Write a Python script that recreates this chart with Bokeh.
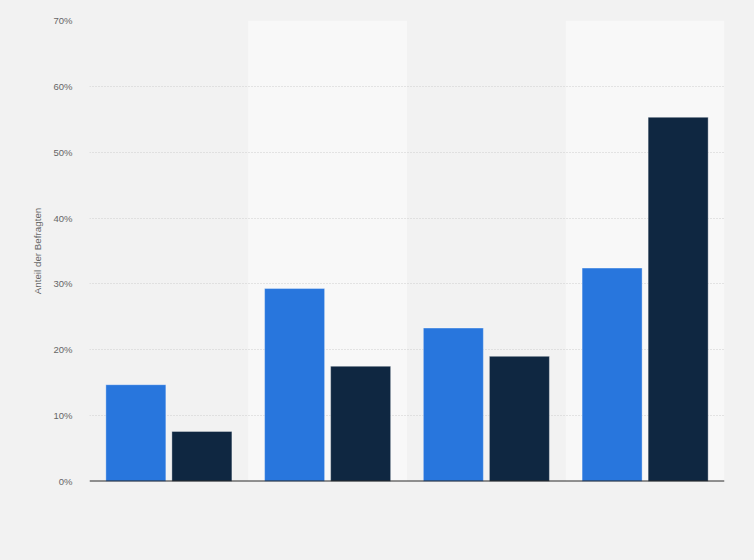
from bokeh.plotting import figure
from bokeh.models import FactorRange, SingleIntervalTicker, Range1d, CustomJSTickFormatter, Span
from bokeh.transform import dodge
from bokeh.embed import file_html
from bokeh.resources import INLINE

categories = ["1", "2", "3", "4"]
series_a = [14.7, 29.3, 23.3, 32.4]
series_b = [7.6, 17.5, 19.0, 55.3]
y_label = "Anteil der Befragten"

BG = "#f2f2f2"
BAND = "#f8f8f8"
BLUE = "#2876dd"
DARK = "#0f2741"

p = figure(
    width=738, height=544,
    x_range=FactorRange(*categories, range_padding=0),
    y_range=Range1d(0, 70),
    output_backend="svg", toolbar_location=None,
    min_border_left=89, min_border_right=14, min_border_top=20, min_border_bottom=63,
    background_fill_color=BG, border_fill_color=BG,
)
p.outline_line_color = None

# alternating background bands
band_src = {"x": categories[1::2], "top": [70] * len(categories[1::2])}
p.vbar(x="x", top="top", bottom=0, width=1, source=band_src,
       fill_color=BAND, line_color=None, level="underlay")

src = {"x": categories, "a": series_a, "b": series_b}
p.vbar(x=dodge("x", -0.208, range=p.x_range), top="a", width=0.378, source=src,
       fill_color=BLUE, line_color="white", line_alpha=0.35, line_width=1)
p.vbar(x=dodge("x", 0.208, range=p.x_range), top="b", width=0.378, source=src,
       fill_color=DARK, line_color="white", line_alpha=0.35, line_width=1)

# x axis: no labels in the reference, only a dark baseline
p.xaxis.visible = False
p.add_layout(Span(location=0, dimension="width", line_color="#2a2a2a",
                  line_width=2, level="overlay"))

p.yaxis.ticker = SingleIntervalTicker(interval=10)
p.yaxis.formatter = CustomJSTickFormatter(code="return tick + '%';")
p.yaxis.axis_line_color = None
p.yaxis.major_tick_line_color = None
p.yaxis.minor_tick_line_color = None
p.yaxis.major_tick_out = 0
p.yaxis.minor_tick_out = 0
p.yaxis.major_label_text_font = "Liberation Sans"
p.yaxis.major_label_text_font_size = "9.5px"
p.yaxis.major_label_text_color = "#666666"
p.yaxis.major_label_standoff = 17
p.yaxis.axis_label = y_label
p.yaxis.axis_label_text_font = "Liberation Sans"
p.yaxis.axis_label_text_font_size = "9.8px"
p.yaxis.axis_label_text_font_style = "normal"
p.yaxis.axis_label_text_color = "#666666"
p.yaxis.axis_label_standoff = 7

p.xgrid.grid_line_color = None
p.ygrid.grid_line_color = "#cfcfcf"
p.ygrid.grid_line_dash = "1 2"
p.ygrid.grid_line_width = 1

html = file_html(p, INLINE)
html = html.replace("<head>", "<head><style>body{background:#f2f2f2;}</style>", 1)
open("out.html", "w").write(html)
